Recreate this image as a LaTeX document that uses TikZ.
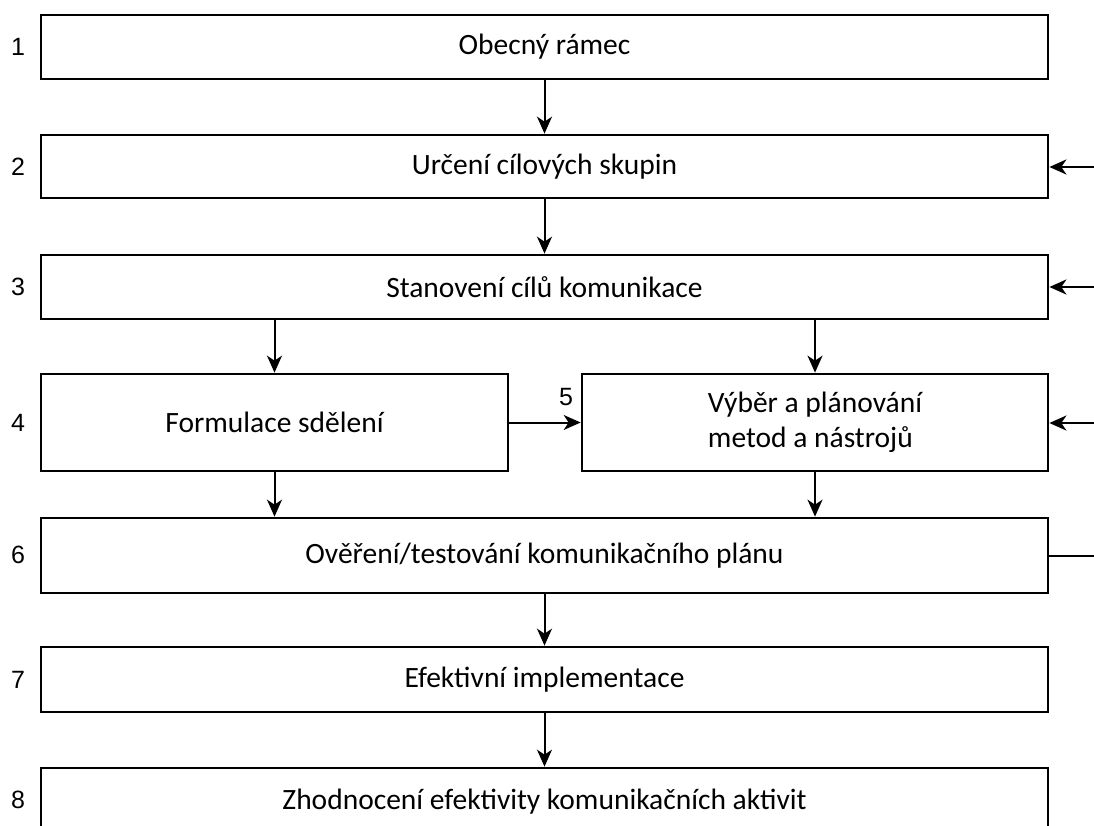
\documentclass[tikz,border=0pt]{standalone}
\usepackage{fontspec}
\setmainfont{Carlito}
\newfontfamily\numfont{Liberation Sans}
\usetikzlibrary{arrows.meta}
\begin{document}
\begin{tikzpicture}[x=1pt,y=-1pt,
  stepbox/.style={draw=black,line width=2.7pt,rectangle,inner sep=0pt,align=center,font=\fontsize{29.5}{35}\selectfont},
  numlabel/.style={font=\numfont\fontsize{25}{30}\selectfont,inner sep=0pt},
  conn/.style={line width=2pt,-{Stealth[length=17pt,width=15pt,inset=5pt]}},
  plain/.style={line width=2pt}]
\useasboundingbox (0,0) rectangle (1094,826);
\node[stepbox,minimum width=1007pt,minimum height=64pt] (b1) at (544.5,47) {Obecný rámec};
\node[stepbox,minimum width=1007pt,minimum height=63pt] (b2) at (544.5,166.5) {Určení cílových skupin};
\node[stepbox,minimum width=1007pt,minimum height=64pt] (b3) at (544.5,287) {Stanovení cílů komunikace};
\node[stepbox,minimum width=467pt,minimum height=97pt] (b4) at (274.5,422.5) {Formulace sdělení};
\node[stepbox,minimum width=466pt,minimum height=97pt,align=left] (b5) at (815,422.5) {Výběr a plánování\\metod a nástrojů};
\node[stepbox,minimum width=1007pt,minimum height=75pt] (b6) at (544.5,555.5) {Ověření/testování komunikačního plánu};
\node[stepbox,minimum width=1007pt,minimum height=65pt] (b7) at (544.5,679.5) {Efektivní implementace};
\node[stepbox,minimum width=1007pt,minimum height=67pt] (b8) at (544.5,801.5) {Zhodnocení efektivity komunikačních aktivit};
\node[numlabel] (n1) at (18,47) {1};
\node[numlabel] (n2) at (18,167) {2};
\node[numlabel] (n3) at (18,287) {3};
\node[numlabel] (n4) at (18,423) {4};
\node[numlabel] (n6) at (18,555) {6};
\node[numlabel] (n7) at (18,680) {7};
\node[numlabel] (n8) at (18,800) {8};
\node[numlabel] (n5) at (566,397) {5};
\coordinate (r2) at (1094,167);
\coordinate (r3) at (1094,287);
\coordinate (r5) at (1094,423);
\coordinate (r6) at (1094,556);
\draw[conn] (b1.south) -- (b2.north);
\draw[conn] (b2.south) -- (b3.north);
\draw[conn] (b3.south -| b4) -- (b4.north);
\draw[conn] (b3.south -| b5) -- (b5.north);
\draw[conn] (b4.east) -- (b5.west);
\draw[conn] (b4.south) -- (b4.south |- b6.north);
\draw[conn] (b5.south) -- (b5.south |- b6.north);
\draw[conn] (b6.south) -- (b7.north);
\draw[conn] (b7.south) -- (b8.north);
\draw[conn] (r2) -- (b2.east |- r2);
\draw[conn] (r3) -- (b3.east |- r3);
\draw[conn] (r5) -- (b5.east |- r5);
\draw[plain] (b6.east |- r6) -- (r6);
\end{tikzpicture}
\end{document}
